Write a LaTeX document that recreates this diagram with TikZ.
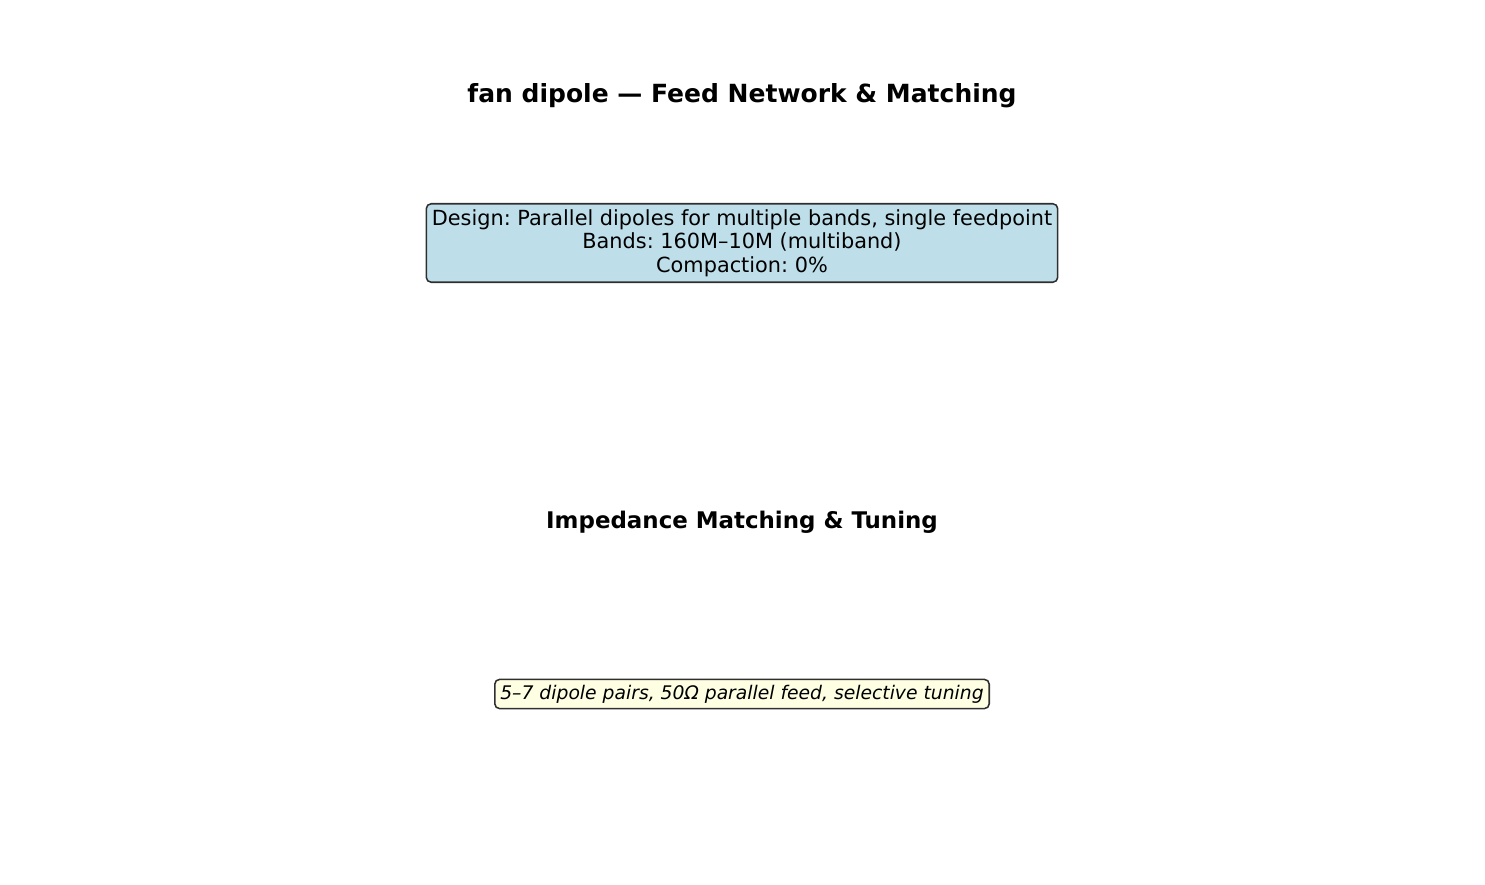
\documentclass[tikz,border=0pt]{standalone}
\usepackage{fontspec}
\setmainfont{DejaVu Sans}
\frenchspacing
\definecolor{designblue}{HTML}{BEDFEA}
\definecolor{noteyellow}{HTML}{FEFEE2}
\definecolor{boxedge}{HTML}{2F2F2F}
\tikzset{
	headline/.style={font=\fontsize{18}{21}\selectfont\bfseries},
	subhead/.style={font=\fontsize{16.5}{19}\selectfont\bfseries},
	infobox/.style={draw=boxedge, line width=1.1pt, rounded corners=3.5pt, fill=designblue,
		align=center, inner xsep=4pt, inner ysep=4pt, font=\fontsize{15}{17}\selectfont},
	notebox/.style={draw=boxedge, line width=1.1pt, rounded corners=3.5pt, fill=noteyellow,
		inner xsep=4pt, inner ysep=4pt, font=\fontsize{13.5}{15}\selectfont\itshape}
}
\begin{document}
\begin{tikzpicture}[x=0.72pt, y=-0.72pt]
	\useasboundingbox (0,0) rectangle (1485,885);
	\node[headline] (title) at (742,96) {fan dipole — Feed Network \& Matching};
	\node[infobox] (design) at (742,243) {Design: Parallel dipoles for multiple bands, single feedpoint\\
		Bands: 160M–10M (multiband)\\
		Compaction: 0\%};
	\node[subhead] (matching) at (742,522) {Impedance Matching \& Tuning};
	\node[notebox] (tuning) at (742,694) {5–7 dipole pairs, 50Ω parallel feed, selective tuning};
\end{tikzpicture}
\end{document}
